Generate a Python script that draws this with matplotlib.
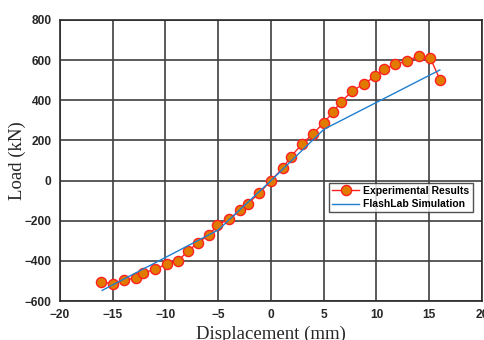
import numpy as np
import matplotlib
matplotlib.use("Agg")
import matplotlib.pyplot as plt

# --- DATOS ---
exp_disp = [-16.1, -15.0, -13.9, -12.8, -12.1, -11.0, -9.9, -8.8, -7.9, -6.95,
            -5.85, -5.1, -4.0, -2.9, -2.2, -1.1, 0.0, 1.1, 1.85, 2.9,
            4.0, 5.0, 5.9, 6.6, 7.7, 8.8, 9.9, 10.7, 11.8, 12.9,
            14.0, 15.1, 16.05]
exp_load = [-504, -515, -494, -487, -461, -442, -416, -399, -353, -310,
            -271, -221, -193, -148, -115, -62, 0, 61, 117, 180,
            234, 288, 342, 391, 445, 483, 519, 554, 579, 596,
            622, 609, 500]

sim_disp = [-16.0, -5.0, 0.0, 5.0, 16.0]
sim_load = [-547, -246, 0, 255, 551]

xticks = [-20, -15, -10, -5, 0, 5, 10, 15, 20]
yticks = [-600, -400, -200, 0, 200, 400, 600, 800]

# --- FIGURA ---
fig = plt.figure(figsize=(4.85, 3.4), dpi=100)
ax = fig.add_axes([60/485, 1 - 301/340, 422/485, 281/340])

ax.plot(exp_disp, exp_load, '-o', color='#ff2020', lw=1.0,
        markerfacecolor='#e07b00', markeredgecolor='#ff2020',
        markersize=7.3, markeredgewidth=1.0, label='Experimental Results', zorder=3)
ax.plot(sim_disp, sim_load, '-', color='#1f7fcf', lw=1.0,
        label='FlashLab Simulation', zorder=4)

ax.set_xlim(-20, 20)
ax.set_ylim(-600, 800)
ax.set_xticks(xticks)
ax.set_yticks(yticks)
ax.grid(True, color='#404040', lw=1.2)
ax.set_axisbelow(True)
for s in ax.spines.values():
    s.set_color('#2a2a2a')
    s.set_linewidth(1.2)

ax.tick_params(length=0, pad=6)
for lab in ax.get_xticklabels() + ax.get_yticklabels():
    lab.set_fontfamily('Liberation Sans')
    lab.set_fontweight('bold')
    lab.set_fontsize(8.6)
    lab.set_color('#262626')

ax.set_xlabel('Displacement (mm)', family='Liberation Serif', fontsize=13.5,
              color='#262626')
ax.set_ylabel('Load (kN)', family='Liberation Serif', fontsize=13.5,
              color='#262626')
ax.xaxis.set_label_coords(0.5, -0.088)
ax.yaxis.set_label_coords(-0.08, 0.5)

leg = ax.legend(loc='upper left', bbox_to_anchor=(269/422, 1 - 163/281),
                prop={'family': 'Liberation Sans', 'weight': 'bold', 'size': 7.5},
                frameon=True, fancybox=False, edgecolor='#262626',
                handlelength=2.6, handletextpad=0.4, borderpad=0.3,
                labelspacing=0.3, borderaxespad=0)
leg.get_frame().set_linewidth(1.0)

plt.savefig('out.png', dpi=100)
